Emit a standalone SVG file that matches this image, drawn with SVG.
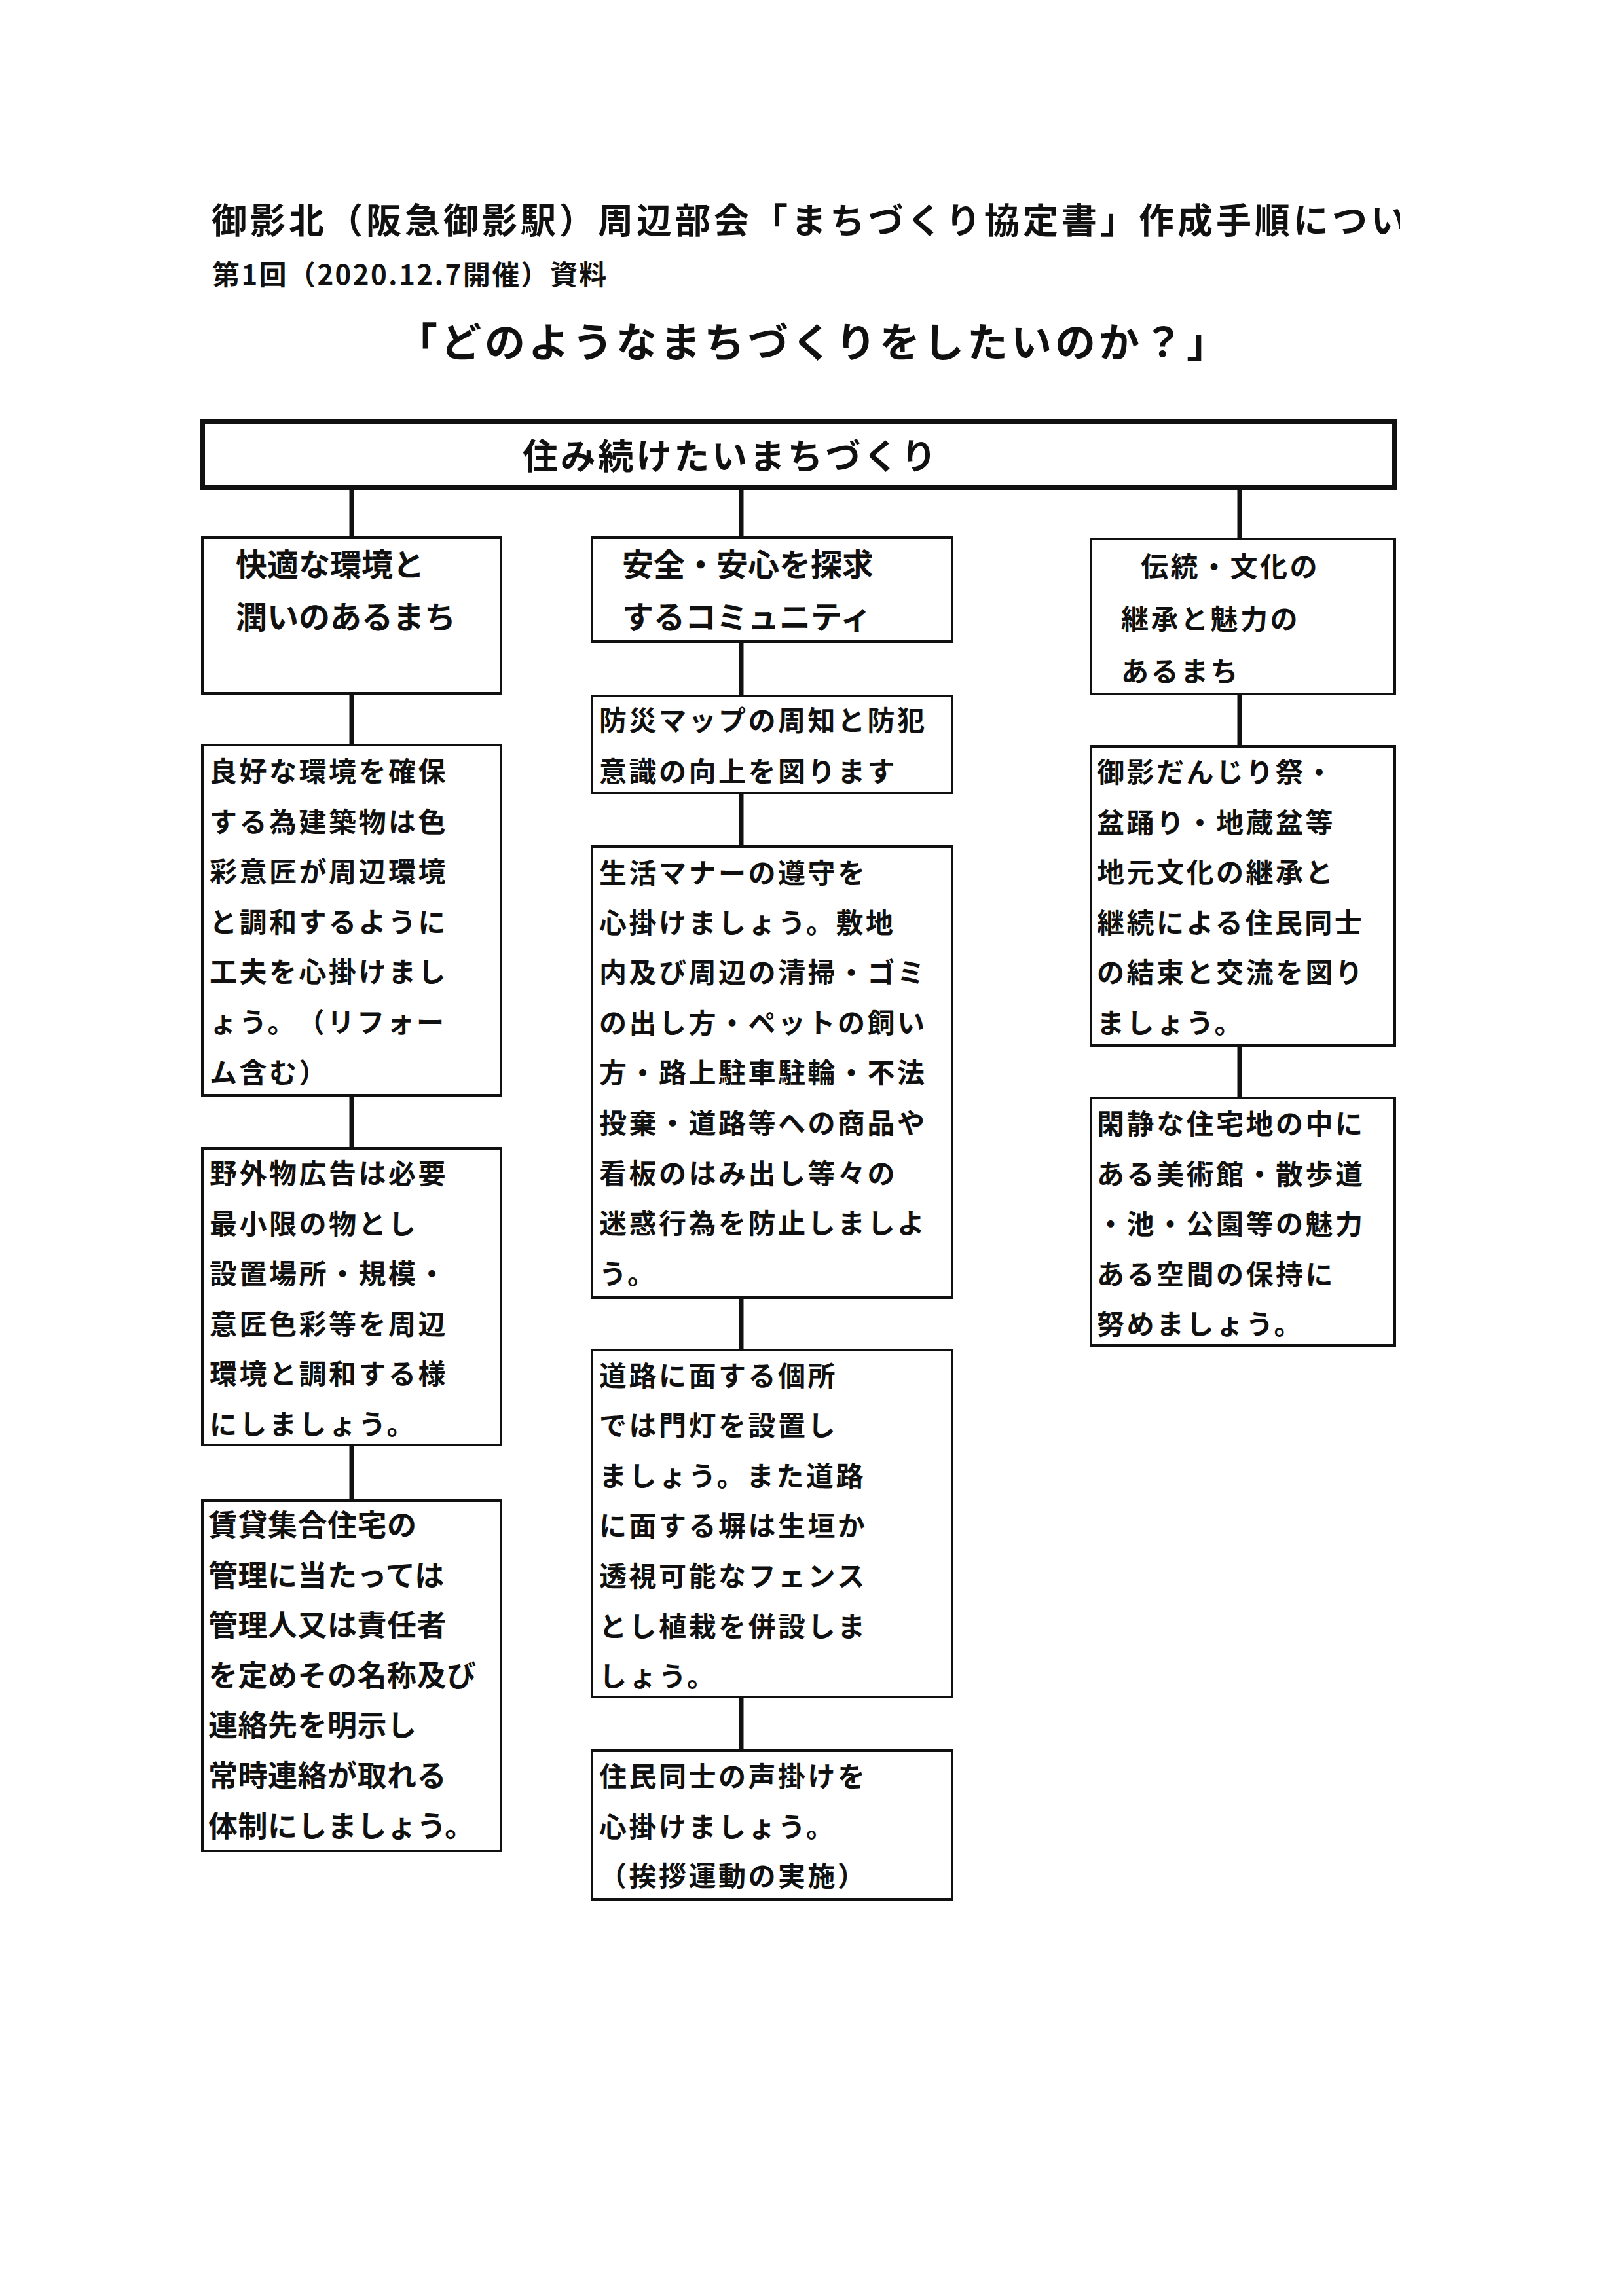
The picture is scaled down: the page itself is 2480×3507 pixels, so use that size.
<svg xmlns="http://www.w3.org/2000/svg" width="2480" height="3507" viewBox="0 0 2480 3507">
<style>
text{font-family:"Noto Sans CJK JP","Noto Sans CJK SC",sans-serif;font-weight:700;fill:#111;dominant-baseline:central;text-spacing-trim:space-all}
.t1{font-size:54px;letter-spacing:5px}
.t2{font-size:42px;letter-spacing:2.4px}
.t3{font-size:62px;letter-spacing:5px;font-weight:600}
.top{font-size:54px;letter-spacing:3.8px;font-weight:600}
.h{font-size:48px;letter-spacing:0px;font-weight:600}
.b{font-size:42px;letter-spacing:3.5px}
.d{font-size:45px;letter-spacing:0.5px;font-weight:600}
.box{fill:#fff;stroke:#111;stroke-width:4}
.topbox{fill:#fff;stroke:#111;stroke-width:8}
.con line{stroke:#111;stroke-width:7}
</style>
<defs>
<clipPath id="pg"><rect x="0" y="0" width="2138" height="3507"/></clipPath>
</defs>
<rect x="0" y="0" width="2480" height="3507" fill="#fff"/>
<g id="titles">
<text class="t1" x="323" y="333" clip-path="url(#pg)">御影北（阪急御影駅）周辺部会「まちづくり協定書」作成手順につい</text>
<text class="t2" x="324" y="416">第1回（2020.12.7開催）資料</text>
<text class="t3" x="606" y="519">「どのようなまちづくりをしたいのか？」</text>
</g>
<g id="connectors" class="con">
<line x1="537" y1="747" x2="537" y2="821"/>
<line x1="1132" y1="747" x2="1132" y2="821"/>
<line x1="1893" y1="747" x2="1893" y2="823"/>
<line x1="537" y1="1059" x2="537" y2="1138"/>
<line x1="537" y1="1673" x2="537" y2="1754"/>
<line x1="537" y1="2207" x2="537" y2="2292"/>
<line x1="1132" y1="980" x2="1132" y2="1063"/>
<line x1="1132" y1="1211" x2="1132" y2="1293"/>
<line x1="1132" y1="1982" x2="1132" y2="2062"/>
<line x1="1132" y1="2592" x2="1132" y2="2674"/>
<line x1="1893" y1="1060" x2="1893" y2="1140"/>
<line x1="1893" y1="1597" x2="1893" y2="1677"/>
</g>
<g id="root">
<rect class="topbox" x="309" y="644" width="1821" height="101"/>
<text class="top" x="798" y="693">住み続けたいまちづくり</text>
</g>
<g id="nodeA">
<rect class="box" x="309" y="821" width="456" height="238"/>
<text class="h" x="360" y="859" letter-spacing="1">快適な環境と</text>
<text class="h" x="360" y="939" letter-spacing="1">潤いのあるまち</text>
</g>
<g id="nodeB">
<rect class="box" x="904" y="821" width="550" height="159"/>
<text class="h" x="950" y="859" letter-spacing="3">安全・安心を探求</text>
<text class="h" x="950" y="939" letter-spacing="3">するコミュニティ</text>
</g>
<g id="nodeC">
<rect class="box" x="1666" y="823" width="464" height="237"/>
<text class="b" x="1742" y="862">伝統・文化の</text>
<text class="b" x="1712" y="942">継承と魅力の</text>
<text class="b" x="1712" y="1022">あるまち</text>
</g>
<g id="nodeA1">
<rect class="box" x="309" y="1138" width="456" height="535"/>
<text class="b" x="320" y="1175">良好な環境を確保</text>
<text class="b" x="320" y="1252">する為建築物は色</text>
<text class="b" x="320" y="1328">彩意匠が周辺環境</text>
<text class="b" x="320" y="1405">と調和するように</text>
<text class="b" x="320" y="1481">工夫を心掛けまし</text>
<text class="b" x="320" y="1558">ょう。（リフォー</text>
<text class="b" x="320" y="1635">ム含む）</text>
</g>
<g id="nodeA2">
<rect class="box" x="309" y="1754" width="456" height="453"/>
<text class="b" x="320" y="1789">野外物広告は必要</text>
<text class="b" x="320" y="1866">最小限の物とし</text>
<text class="b" x="320" y="1942">設置場所・規模・</text>
<text class="b" x="320" y="2019">意匠色彩等を周辺</text>
<text class="b" x="320" y="2095">環境と調和する様</text>
<text class="b" x="320" y="2172">にしましょう。</text>
</g>
<g id="nodeA3">
<rect class="box" x="309" y="2292" width="456" height="535"/>
<text class="d" x="318" y="2326">賃貸集合住宅の</text>
<text class="d" x="318" y="2403">管理に当たっては</text>
<text class="d" x="318" y="2479">管理人又は責任者</text>
<text class="d" x="318" y="2556">を定めその名称及び</text>
<text class="d" x="318" y="2632">連絡先を明示し</text>
<text class="d" x="318" y="2709">常時連絡が取れる</text>
<text class="d" x="318" y="2786">体制にしましょう。</text>
</g>
<g id="nodeB1">
<rect class="box" x="904" y="1063" width="550" height="148"/>
<text class="b" x="915" y="1097">防災マップの周知と防犯</text>
<text class="b" x="915" y="1175">意識の向上を図ります</text>
</g>
<g id="nodeB2">
<rect class="box" x="904" y="1293" width="550" height="689"/>
<text class="b" x="915" y="1330">生活マナーの遵守を</text>
<text class="b" x="915" y="1406">心掛けましょう。敷地</text>
<text class="b" x="915" y="1482">内及び周辺の清掃・ゴミ</text>
<text class="b" x="915" y="1559">の出し方・ペットの飼い</text>
<text class="b" x="915" y="1635">方・路上駐車駐輪・不法</text>
<text class="b" x="915" y="1712">投棄・道路等への商品や</text>
<text class="b" x="915" y="1789">看板のはみ出し等々の</text>
<text class="b" x="915" y="1865">迷惑行為を防止しましよ</text>
<text class="b" x="915" y="1942">う。</text>
</g>
<g id="nodeB3">
<rect class="box" x="904" y="2062" width="550" height="530"/>
<text class="b" x="915" y="2098">道路に面する個所</text>
<text class="b" x="915" y="2174">では門灯を設置し</text>
<text class="b" x="915" y="2251">ましょう。また道路</text>
<text class="b" x="915" y="2327">に面する塀は生垣か</text>
<text class="b" x="915" y="2404">透視可能なフェンス</text>
<text class="b" x="915" y="2481">とし植栽を併設しま</text>
<text class="b" x="915" y="2557">しょう。</text>
</g>
<g id="nodeB4">
<rect class="box" x="904" y="2674" width="550" height="227"/>
<text class="b" x="915" y="2710">住民同士の声掛けを</text>
<text class="b" x="915" y="2787">心掛けましょう。</text>
<text class="b" x="915" y="2862">（挨拶運動の実施）</text>
</g>
<g id="nodeC1">
<rect class="box" x="1666" y="1140" width="464" height="457"/>
<text class="b" x="1675" y="1176">御影だんじり祭・</text>
<text class="b" x="1675" y="1253">盆踊り・地蔵盆等</text>
<text class="b" x="1675" y="1329">地元文化の継承と</text>
<text class="b" x="1675" y="1406">継続による住民同士</text>
<text class="b" x="1675" y="1482">の結束と交流を図り</text>
<text class="b" x="1675" y="1559">ましょう。</text>
</g>
<g id="nodeC2">
<rect class="box" x="1666" y="1677" width="464" height="378"/>
<text class="b" x="1675" y="1713">閑静な住宅地の中に</text>
<text class="b" x="1675" y="1790">ある美術館・散歩道</text>
<text class="b" x="1675" y="1866">・池・公園等の魅力</text>
<text class="b" x="1675" y="1943">ある空間の保持に</text>
<text class="b" x="1675" y="2019">努めましょう。</text>
</g>
</svg>
